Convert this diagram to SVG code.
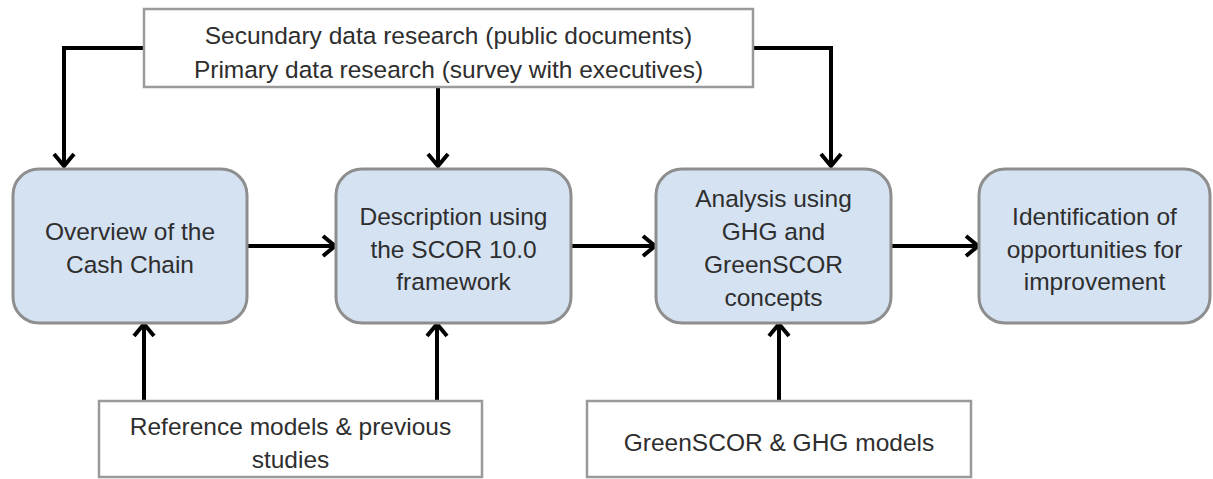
<svg xmlns="http://www.w3.org/2000/svg" width="1213" height="479" viewBox="0 0 1213 479">
  <style>
    .node { fill: #d5e2f2; stroke: #8e8e8e; stroke-width: 3; }
    .box { fill: #ffffff; stroke: #9a9a9a; stroke-width: 2.5; }
    .lbl { font-family: "Liberation Sans", Arial, sans-serif; font-size: 24.5px; fill: #2e2e2e; text-anchor: middle; }
    .conn { fill: none; stroke: #000000; stroke-width: 4; }
  </style>
  <defs>
    <marker id="arr" viewBox="0 0 16 24" refX="14" refY="12" markerWidth="16" markerHeight="24" markerUnits="userSpaceOnUse" orient="auto">
      <path d="M2,2 L14,12 L2,22" fill="none" stroke="#000" stroke-width="4"/>
    </marker>
  </defs>
  <rect width="1213" height="479" fill="#ffffff"/>

  <g id="connectors">
    <path class="conn" d="M144,48 H64 V166" marker-end="url(#arr)"/>
    <path class="conn" d="M438,87 V166" marker-end="url(#arr)"/>
    <path class="conn" d="M753,48 H831 V166" marker-end="url(#arr)"/>
    <path class="conn" d="M247,246 H335" marker-end="url(#arr)"/>
    <path class="conn" d="M571,246 H655" marker-end="url(#arr)"/>
    <path class="conn" d="M891,246 H978" marker-end="url(#arr)"/>
    <path class="conn" d="M144,401 V324" marker-end="url(#arr)"/>
    <path class="conn" d="M437,401 V324" marker-end="url(#arr)"/>
    <path class="conn" d="M779,401 V324" marker-end="url(#arr)"/>
  </g>

  <g id="sources">
    <rect class="box" x="144" y="9" width="609" height="78"/>
    <text class="lbl" x="448.5" y="44">Secundary data research (public documents)</text>
    <text class="lbl" x="448.5" y="78">Primary data research (survey with executives)</text>
  </g>

  <g id="overview">
    <rect class="node" x="13" y="169" width="234" height="154" rx="26" ry="26"/>
    <text class="lbl" x="130" y="240">Overview of the</text>
    <text class="lbl" x="130" y="273">Cash Chain</text>
  </g>

  <g id="description">
    <rect class="node" x="336" y="169" width="235" height="154" rx="26" ry="26"/>
    <text class="lbl" x="453.5" y="225">Description using</text>
    <text class="lbl" x="453.5" y="258">the SCOR 10.0</text>
    <text class="lbl" x="453.5" y="290">framework</text>
  </g>

  <g id="analysis">
    <rect class="node" x="656" y="169" width="235" height="154" rx="26" ry="26"/>
    <text class="lbl" x="773.5" y="207">Analysis using</text>
    <text class="lbl" x="773.5" y="240">GHG and</text>
    <text class="lbl" x="773.5" y="273">GreenSCOR</text>
    <text class="lbl" x="773.5" y="306">concepts</text>
  </g>

  <g id="identification">
    <rect class="node" x="979" y="169" width="231" height="154" rx="26" ry="26"/>
    <text class="lbl" x="1094.5" y="225">Identification of</text>
    <text class="lbl" x="1094.5" y="258">opportunities for</text>
    <text class="lbl" x="1094.5" y="290">improvement</text>
  </g>

  <g id="reference">
    <rect class="box" x="99" y="401" width="383" height="76"/>
    <text class="lbl" x="290.5" y="435">Reference models &amp; previous</text>
    <text class="lbl" x="290.5" y="468">studies</text>
  </g>

  <g id="greenscor">
    <rect class="box" x="587" y="401" width="384" height="76"/>
    <text class="lbl" x="779" y="451">GreenSCOR &amp; GHG models</text>
  </g>
</svg>
